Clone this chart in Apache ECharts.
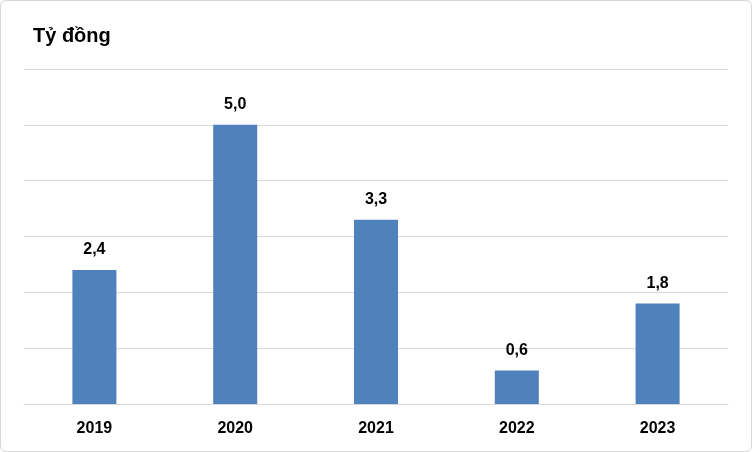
<!DOCTYPE html>
<html><head><meta charset="utf-8">
<script src="https://cdn.jsdelivr.net/npm/echarts@6/dist/echarts.min.js"></script>
<style>html,body{margin:0;padding:0;background:#fff}#c{width:752px;height:452px;box-sizing:border-box;border:1px solid #d9d9d9;border-radius:6px}</style>
</head><body><div id="c"></div>
<script>
const categories = ["2019","2020","2021","2022","2023"];
const values = [2.4, 5.0, 3.3, 0.6, 1.8];
const labels = ["2,4","5,0","3,3","0,6","1,8"];
const chart = echarts.init(document.getElementById('c'));
chart.setOption({
  animation:false,
  title:{text:'Tỷ đồng',left:27,top:20,textStyle:{fontFamily:'Liberation Sans',fontWeight:'bold',fontSize:20,color:'#000'}},
  grid:{left:23,right:23,top:68,bottom:47},
  xAxis:{type:'category',data:categories,axisTick:{show:false},
    axisLine:{lineStyle:{color:'#d9d9d9'}},
    axisLabel:{color:'#000',fontFamily:'Liberation Sans',fontWeight:'bold',fontSize:16,margin:17}},
  yAxis:{type:'value',min:0,max:6,interval:1,axisLabel:{show:false},axisLine:{show:false},axisTick:{show:false},
    splitLine:{lineStyle:{color:'#d9d9d9'}}},
  series:[{type:'bar',data:values,barWidth:44,itemStyle:{color:'#4f81bd'},
    label:{show:true,position:'top',distance:12,color:'#000',fontFamily:'Liberation Sans',fontWeight:'bold',fontSize:16,
      formatter:p=>labels[p.dataIndex]}}]
});
</script></body></html>
